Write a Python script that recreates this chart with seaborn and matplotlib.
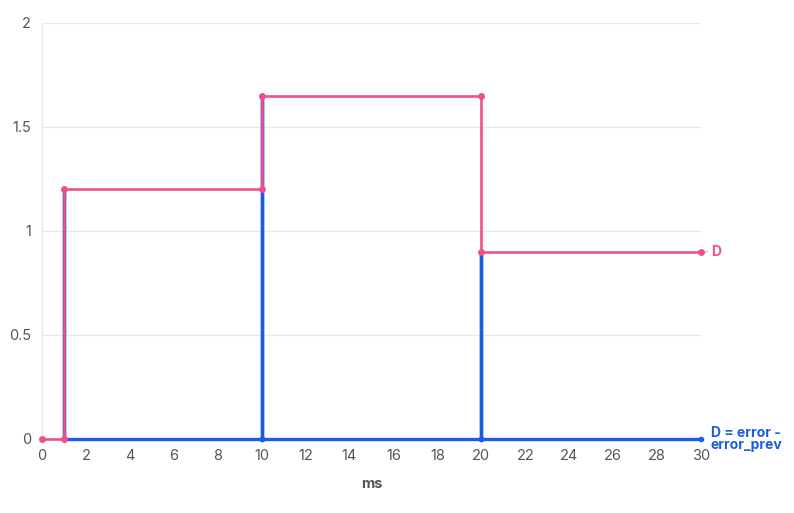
import numpy as np
import pandas as pd
import matplotlib
matplotlib.use("Agg")
import matplotlib.pyplot as plt
import seaborn as sns

# data
d_x = [0, 1, 1, 10, 10, 20, 20, 30]
d_y = [0, 0, 1.2, 1.2, 1.65, 1.65, 0.9, 0.9]

diff_x = [1, 1, 1, 10, 10, 10, 20, 20, 20, 30]
diff_y = [0, 1.2, 0, 0, 1.65, 0, 0, 0.9, 0, 0]

x_ticks = list(range(0, 31, 2))
y_ticks = [0, 0.5, 1, 1.5, 2]
y_labels = ["0", "0.5", "1", "1.5", "2"]

PINK = "#ef4f8b"
BLUE = "#1b5ce0"
GRID = "#e9e9e9"
TXT = "#555555"

sns.set_style("white")
plt.rcParams["font.family"] = ["Inter", "DejaVu Sans"]

fig = plt.figure(figsize=(7.94, 5.13), dpi=100)
ax = fig.add_axes([42 / 794, 1 - 439 / 513, (701 - 42) / 794, (439 - 23) / 513])

df_diff = pd.DataFrame({"ms": diff_x, "val": diff_y})
df_d = pd.DataFrame({"ms": d_x, "val": d_y})

sns.lineplot(data=df_diff, x="ms", y="val", sort=False, estimator=None,
             color=BLUE, linewidth=2.4, marker="o", markersize=4,
             markeredgewidth=0, ax=ax, zorder=3)
sns.lineplot(data=df_d, x="ms", y="val", sort=False, estimator=None,
             color=PINK, linewidth=1.9, marker="o", markersize=5,
             markeredgewidth=0, ax=ax, zorder=4)

ax.set_xlim(0, 30)
ax.set_ylim(0, 2)
ax.set_xticks(x_ticks)
ax.set_yticks(y_ticks)
ax.set_yticklabels(y_labels)
ax.grid(axis="y", color=GRID, linewidth=1)
ax.set_axisbelow(True)
for s in ["top", "right", "bottom"]:
    ax.spines[s].set_visible(False)
ax.spines["left"].set_color(GRID)
ax.spines["left"].set_linewidth(1)
ax.tick_params(axis="both", colors=GRID, labelcolor=TXT, labelsize=10.5,
               length=5, width=1, pad=3)
ax.tick_params(axis="x", pad=2)
for lbl in ax.get_xticklabels() + ax.get_yticklabels():
    lbl.set_clip_on(False)

ax.set_xlabel("ms", fontsize=10.5, fontweight="bold", color=TXT, labelpad=10)
ax.set_ylabel("")

# end labels
ax.annotate("D", xy=(d_x[-1], d_y[-1]), xytext=(7, 0), textcoords="offset points",
            va="center", ha="left", color=PINK, fontsize=10, fontweight="bold",
            annotation_clip=False,
            arrowprops=dict(arrowstyle="-", color="#bbbbbb", lw=1,
                            shrinkA=0, shrinkB=3))
ax.annotate("D = error -\nerror_prev", xy=(diff_x[-1], diff_y[-1]), xytext=(7, 0),
            textcoords="offset points", va="center", ha="left", color=BLUE,
            fontsize=10, fontweight="bold", linespacing=0.9,
            annotation_clip=False)

for line in ax.lines:
    line.set_clip_on(False)

fig.savefig("out.png", dpi=100)
